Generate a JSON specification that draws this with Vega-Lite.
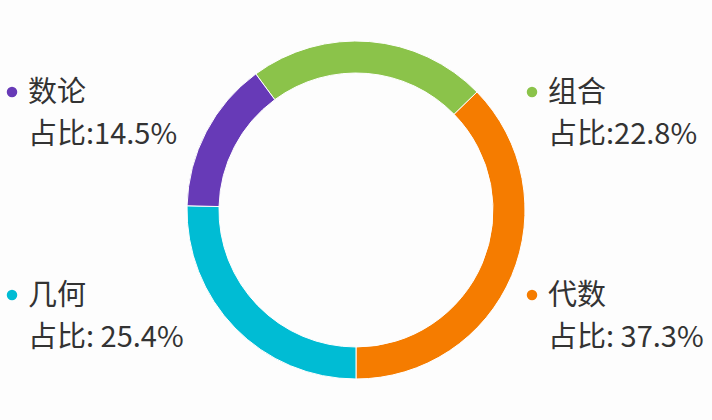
{
  "$schema": "https://vega.github.io/schema/vega-lite/v6.json",
  "width": 712,
  "height": 420,
  "padding": 0,
  "autosize": {"type": "fit", "contains": "padding"},
  "background": "#fdfdfd",
  "config": {"view": {"stroke": null}},
  "data": {
    "values": [
      {"subject": "组合", "share": 22.8, "label": "占比:22.8%", "side": "right", "row": "top", "order": 1},
      {"subject": "代数", "share": 37.3, "label": "占比: 37.3%", "side": "right", "row": "bottom", "order": 2},
      {"subject": "几何", "share": 25.4, "label": "占比: 25.4%", "side": "left", "row": "bottom", "order": 3},
      {"subject": "数论", "share": 14.5, "label": "占比:14.5%", "side": "left", "row": "top", "order": 4}
    ]
  },
  "layer": [
    {
      "mark": {"type": "arc", "innerRadius": 137, "radius": 169, "stroke": "#ffffff", "strokeWidth": 1},
      "encoding": {
        "theta": {"field": "share", "type": "quantitative", "stack": true,
          "scale": {"range": [-0.6346, 5.6486]}},
        "color": {"field": "subject", "type": "nominal", "legend": null,
          "scale": {"domain": ["组合", "代数", "几何", "数论"],
                    "range": ["#8bc34a", "#f57c00", "#00bcd4", "#673ab7"]}},
        "order": {"field": "order", "type": "quantitative"}
      }
    },
    {
      "mark": {"type": "point", "filled": true, "size": 110, "opacity": 1, "xOffset": -16, "yOffset": -1},
      "encoding": {
        "x": {"field": "side", "type": "nominal", "axis": null,
          "scale": {"domain": ["left", "right"], "padding": 0.1846, "align": 0.1458}},
        "y": {"field": "row", "type": "nominal", "axis": null,
          "scale": {"domain": ["top", "bottom"], "padding": 0.5345, "align": 0.4286}},
        "color": {"field": "subject", "type": "nominal", "legend": null}
      }
    },
    {
      "mark": {"type": "text", "align": "left", "baseline": "middle", "font": "Noto Sans CJK SC", "fontSize": 29, "color": "#333333"},
      "encoding": {
        "x": {"field": "side", "type": "nominal", "axis": null},
        "y": {"field": "row", "type": "nominal", "axis": null},
        "text": {"field": "subject"}
      }
    },
    {
      "mark": {"type": "text", "align": "left", "baseline": "middle", "dy": 42, "font": "Noto Sans CJK SC", "fontSize": 29, "color": "#333333"},
      "encoding": {
        "x": {"field": "side", "type": "nominal", "axis": null},
        "y": {"field": "row", "type": "nominal", "axis": null},
        "text": {"field": "label"}
      }
    }
  ]
}
